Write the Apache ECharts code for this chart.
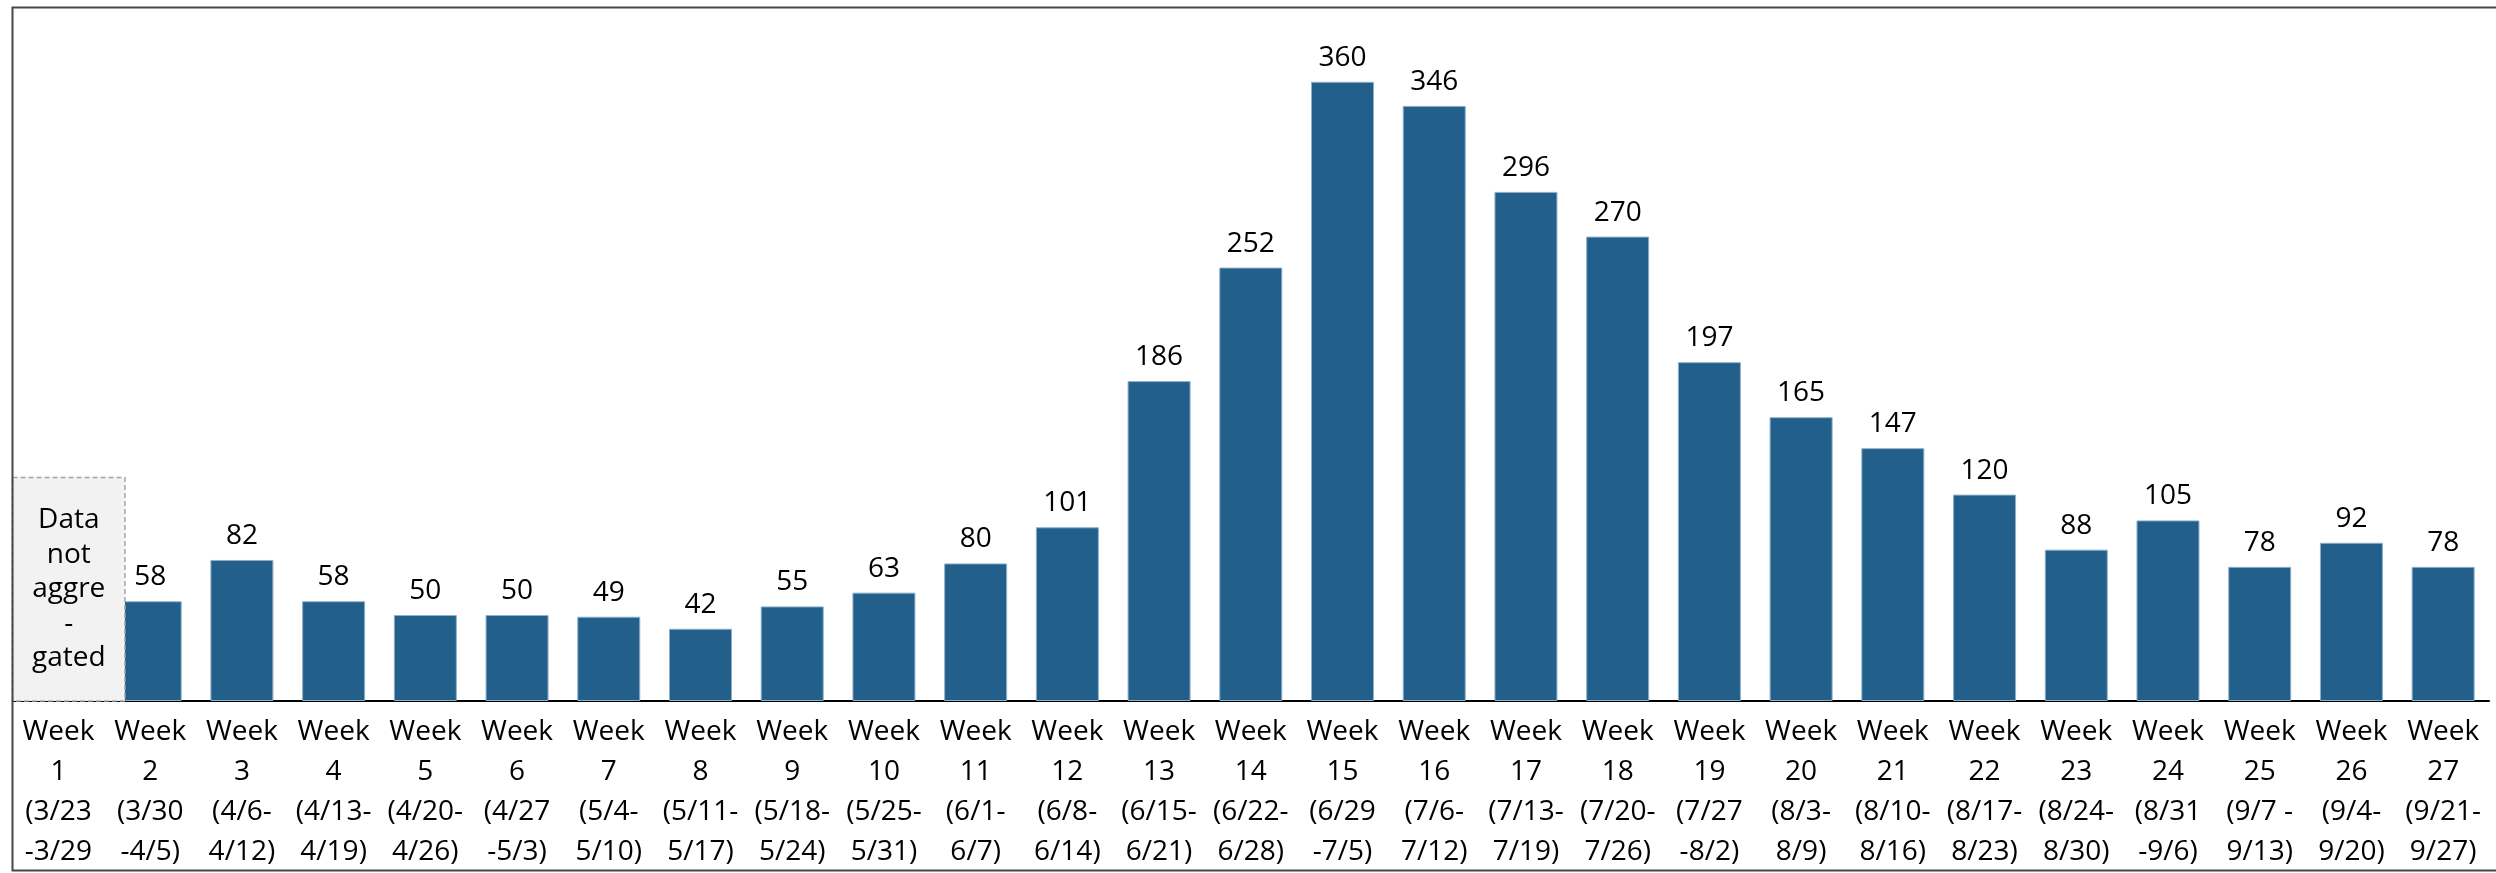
<!DOCTYPE html>
<html>
<head>
<meta charset="utf-8">
<script src="https://cdn.jsdelivr.net/npm/echarts@6/dist/echarts.min.js"></script>
<style>
html,body{margin:0;padding:0;background:#fff;}
#chart{width:2496px;height:873px;}
</style>
</head>
<body>
<div id="chart"></div>
<script>
const weekNumbers = ['1','2','3','4','5','6','7','8','9','10','11','12','13','14','15','16','17','18','19','20','21','22','23','24','25','26','27'];
const dateLine1 = ['(3/23','(3/30','(4/6-','(4/13-','(4/20-','(4/27','(5/4-','(5/11-','(5/18-','(5/25-','(6/1-','(6/8-','(6/15-','(6/22-','(6/29','(7/6-','(7/13-','(7/20-','(7/27','(8/3-','(8/10-','(8/17-','(8/24-','(8/31','(9/7 -','(9/4-','(9/21-'];
const dateLine2 = ['-3/29','-4/5)','4/12)','4/19)','4/26)','-5/3)','5/10)','5/17)','5/24)','5/31)','6/7)','6/14)','6/21)','6/28)','-7/5)','7/12)','7/19)','7/26)','-8/2)','8/9)','8/16)','8/23)','8/30)','-9/6)','9/13)','9/20)','9/27)'];
const values = [null,58,82,58,50,50,49,42,55,63,80,101,186,252,360,346,296,270,197,165,147,120,88,105,78,92,78];
const placeholderText = 'Data\nnot\naggre\n-\ngated';
const placeholderLevel = 130;

const categories = weekNumbers.map((n, i) => 'Week\n' + n + '\n' + dateLine1[i] + '\n' + dateLine2[i]);

const FONT = '"Open Sans", "Noto Sans", sans-serif';
const chart = echarts.init(document.getElementById('chart'), null, {renderer: 'canvas'});

const option = {
  animation: false,
  backgroundColor: '#ffffff',
  grid: {left: 12.6, right: 7, top: 13, bottom: 172, containLabel: false},
  xAxis: {
    type: 'category',
    data: categories,
    axisLine: {show: true, lineStyle: {color: '#000000', width: 2}},
    axisTick: {show: false},
    axisLabel: {interval: 0, margin: 11, color: '#000000', fontFamily: FONT, fontSize: 28, lineHeight: 40, align: 'center'}
  },
  yAxis: {
    type: 'value', min: 0, max: 400,
    show: false,
    splitLine: {show: false}
  },
  series: [{
    type: 'bar',
    data: values,
    barWidth: 63,
    itemStyle: {color: '#22608B', borderColor: '#8FB0C9', borderWidth: 1},
    label: {show: true, position: 'top', distance: 10, color: '#000000', fontFamily: FONT, fontSize: 28}
  }]
};
chart.setOption(option);

const c0 = chart.convertToPixel({xAxisIndex: 0}, 0);
const c1 = chart.convertToPixel({xAxisIndex: 0}, 1);
const band = c1 - c0;
const yTop = chart.convertToPixel({yAxisIndex: 0}, placeholderLevel);
const yZero = chart.convertToPixel({yAxisIndex: 0}, 0);
const boxLeft = c0 - band / 2;
const boxRight = c0 + band * 0.725;

chart.setOption({
  graphic: [
    {
      type: 'rect', z: 100,
      shape: {x: boxLeft, y: yTop, width: boxRight - boxLeft, height: yZero - yTop},
      style: {fill: '#F2F2F2', stroke: '#A6A6A6', lineWidth: 1.5, lineDash: [5, 3]}
    },
    {
      type: 'text', z: 101,
      x: (boxLeft + boxRight) / 2, y: (yTop + yZero) / 2,
      style: {text: placeholderText, fill: '#000000', font: '28px ' + FONT, lineHeight: 34.6, align: 'center', verticalAlign: 'middle'}
    },
    {
      type: 'rect', z: 110,
      shape: {x: 12.5, y: 7.5, width: 2600, height: 863},
      style: {fill: 'none', stroke: '#474747', lineWidth: 2}
    }
  ]
});
</script>
</body>
</html>
